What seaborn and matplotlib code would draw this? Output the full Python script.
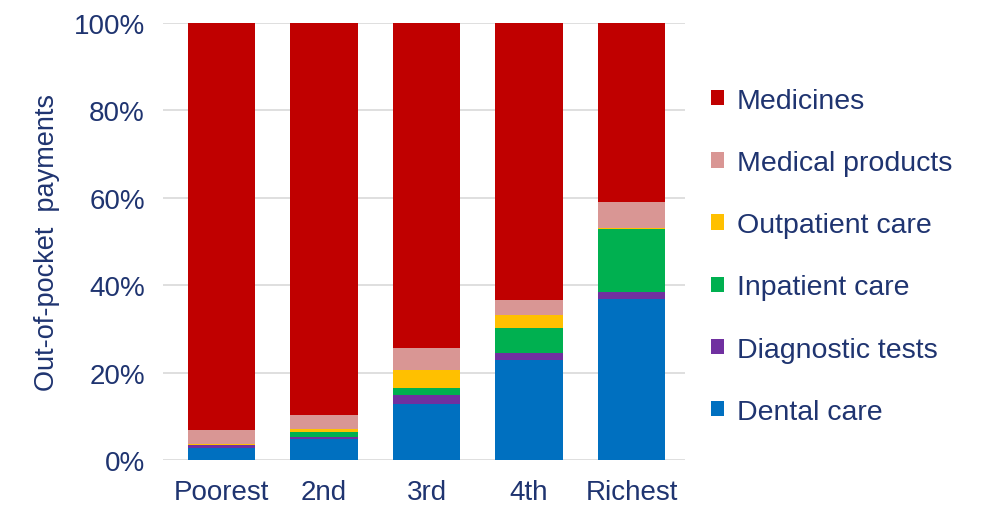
import matplotlib
matplotlib.use("Agg")
import matplotlib.pyplot as plt
import seaborn as sns
import pandas as pd
import numpy as np
from matplotlib.patches import Patch

quintiles = ["Poorest", "2nd", "3rd", "4th", "Richest"]
dental = [2.7, 4.9, 12.8, 22.8, 36.9]
diagnostic = [0.65, 0.3, 2.0, 1.6, 1.6]
inpatient = [0.0, 1.25, 1.6, 5.8, 14.4]
outpatient = [0.2, 0.6, 4.2, 3.0, 0.2]
med_products = [3.4, 3.3, 4.9, 3.3, 5.8]
medicines = [93.05, 89.65, 74.5, 63.5, 41.1]

series_names = ["Dental care", "Diagnostic tests", "Inpatient care",
                "Outpatient care", "Medical products", "Medicines"]
series_vals = [dental, diagnostic, inpatient, outpatient, med_products, medicines]
colors = ["#0070C0", "#7030A0", "#00B050", "#FFC000", "#D99694", "#C00000"]
ytick_labels = ["0%", "20%", "40%", "60%", "80%", "100%"]

text_color = "#1F3470"

sns.set_theme(style="white")
plt.rcParams["font.family"] = ["Liberation Sans", "DejaVu Sans"]

fig = plt.figure(figsize=(9.94, 5.06), dpi=100)
ax = fig.add_axes([0.164, 0.089, 0.525, 0.864])

rows = []
cum = np.zeros(len(quintiles))
for name, vals in zip(series_names, series_vals):
    cum = cum + np.array(vals)
    for q, c in zip(quintiles, cum):
        rows.append({"quintile": q, "series": name, "cum": c})
df = pd.DataFrame(rows)

# draw from the top layer down so lower layers overlay
for name, col in reversed(list(zip(series_names, colors))):
    sub = df[df["series"] == name]
    sns.barplot(data=sub, x="quintile", y="cum", order=quintiles, color=col,
                width=0.66, ax=ax, saturation=1, zorder=3, edgecolor="none")

ax.set_ylim(0, 100)
ax.set_xlim(-0.57, 4.52)
ax.set_yticks([0, 20, 40, 60, 80, 100])
ax.set_yticklabels(ytick_labels)
ax.yaxis.grid(True, color="#D9D9D9", linewidth=1.2, zorder=0)
ax.set_axisbelow(True)
for s in ax.spines.values():
    s.set_visible(False)
ax.tick_params(axis="y", length=0, labelsize=20, colors=text_color, pad=13)
ax.tick_params(axis="x", length=0, labelsize=20, colors=text_color, pad=14)
ax.set_xlabel("")
ax.set_ylabel("Out-of-pocket  payments", fontsize=19.5, color=text_color, labelpad=10)

handles = [Patch(facecolor=c, edgecolor="none") for c in reversed(colors)]
labels = list(reversed(series_names))
leg = fig.legend(handles, labels, loc="upper left", bbox_to_anchor=(0.69, 0.875),
                 frameon=False, fontsize=20.5, labelcolor=text_color,
                 handlelength=0.45, handleheight=0.45, handletextpad=0.45,
                 labelspacing=1.27)

fig.savefig("out.png", dpi=100)
